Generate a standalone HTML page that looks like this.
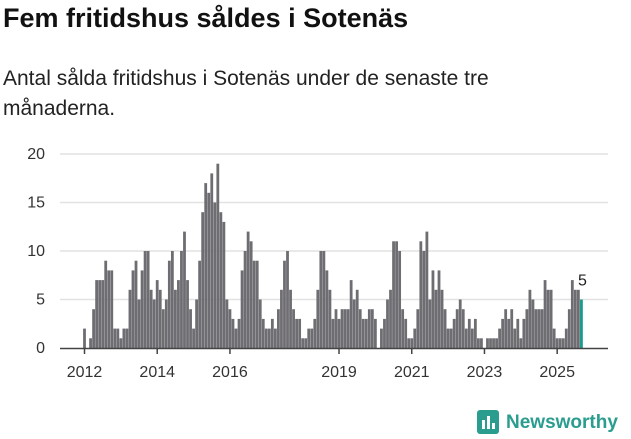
<!DOCTYPE html>
<html><head><meta charset="utf-8">
<style>
body{margin:0;background:#fff;width:631px;height:439px;overflow:hidden;font-family:"Liberation Sans",sans-serif;}
h1{position:absolute;left:3px;top:3px;margin:0;font-size:27px;font-weight:bold;color:#111;}
.sub{position:absolute;left:3px;top:64px;margin:0;font-size:21px;line-height:30px;color:#222;width:600px;}
svg{position:absolute;left:0;top:0;}
</style></head><body>
<h1>Fem fritidshus såldes i Sotenäs</h1>
<p class="sub">Antal sålda fritidshus i Sotenäs under de senaste tre månaderna.</p>
<svg id="chart" width="631" height="439"></svg>
<script>
const startYear = 2012;
const values = [
2,0,1,4,7,7,7,9,8,8,2,2,
1,2,2,6,8,9,5,8,10,10,6,5,
7,6,4,5,9,10,6,7,10,12,7,4,
2,5,9,14,17,16,18,15,19,14,13,5,
4,3,2,3,8,10,12,11,9,9,5,3,
2,2,3,2,4,6,9,10,6,4,3,3,
1,1,2,2,3,6,10,10,8,6,3,4,
3,4,4,4,7,5,6,4,3,3,4,4,
3,0,2,3,5,6,11,11,10,4,3,1,
1,2,4,11,10,12,5,8,6,8,6,4,
2,2,3,4,5,4,2,3,2,3,1,1,
0,1,1,1,1,2,3,4,3,4,2,3,
1,3,4,6,5,4,4,4,7,6,6,2,
1,1,1,2,4,7,6,6,5];
const yTicks = [0,5,10,15,20];
const xTickYears = [2012,2014,2016,2019,2021,2023,2025];

const NS="http://www.w3.org/2000/svg";
const svg=document.getElementById('chart');
const x0=84.5, step=3.03, y0=348, yPer=9.7;
function xs(i){return x0+step*i;}
function ys(v){return y0-v*yPer;}
function mk(t,a){const e=document.createElementNS(NS,t);for(const k in a)e.setAttribute(k,a[k]);svg.appendChild(e);return e;}

yTicks.forEach(v=>{
  if(v>0){const g=mk('line',{x1:60,x2:608,y1:ys(v),y2:ys(v),stroke:'#e2e2e2','stroke-width':1.5});
  
  }
  const t=mk('text',{x:45,y:ys(v)+5,'text-anchor':'end','font-size':16,fill:'#333','font-family':'Liberation Sans, sans-serif'});
  t.textContent=v;
  
  
});

values.forEach((v,i)=>{
  const last=i===values.length-1;
  const r=mk('rect',{x:xs(i)-1.4,y:ys(v),width:2.8,height:v*yPer,fill:last?'#1a9a8c':'#6e6d72'});
  
  
});

const ax=mk('line',{x1:60,x2:608,y1:y0+0.5,y2:y0+0.5,stroke:'#444','stroke-width':1.5});



xTickYears.forEach(yr=>{
  const i=(yr-startYear)*12;
  const tk=mk('line',{x1:xs(i),x2:xs(i),y1:y0,y2:y0+6,stroke:'#444','stroke-width':1.5});
  
  
  const t=mk('text',{x:xs(i),y:377,'text-anchor':'middle','font-size':16,fill:'#333','font-family':'Liberation Sans, sans-serif'});
  t.textContent=yr;
  
  
});

const li=values.length-1;
const lab=mk('text',{x:xs(li)+1,y:ys(values[li])-14,'text-anchor':'middle','font-size':16,fill:'#222','font-family':'Liberation Sans, sans-serif'});
lab.textContent=values[li];


</script>
<svg width="631" height="439" style="pointer-events:none">
  <rect x="477" y="410" width="22" height="24" rx="3" fill="#2a9d8f"/>
  <rect x="482" y="420" width="3" height="9" fill="#fff"/>
  <rect x="487" y="416" width="3" height="13" fill="#fff"/>
  <rect x="492" y="423" width="3" height="6" fill="#fff"/>
  <text x="506" y="428" font-size="19" font-weight="bold" fill="#2a9d8f" font-family="Liberation Sans, sans-serif">Newsworthy</text>
</svg>
</body></html>
